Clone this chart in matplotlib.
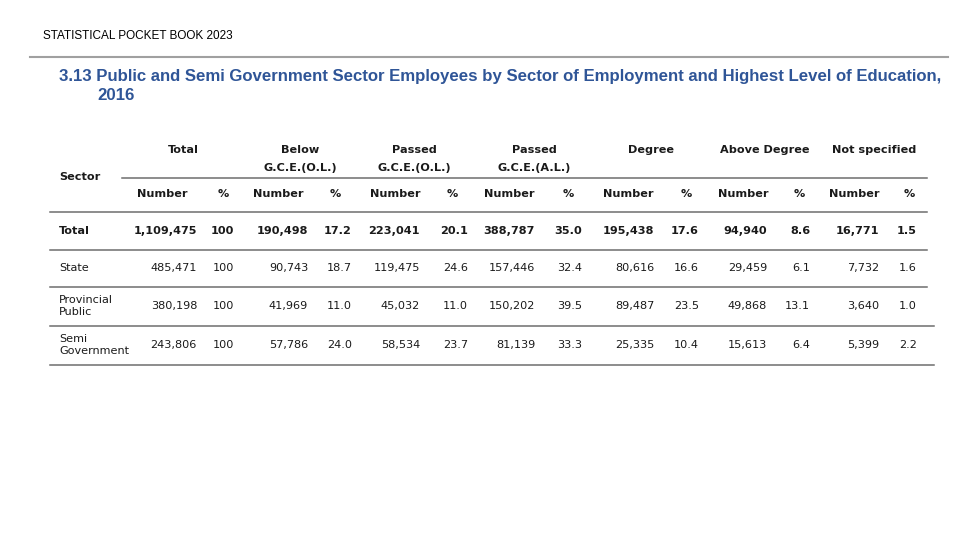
import matplotlib
matplotlib.use('Agg')
import matplotlib.pyplot as plt

# table data
sectors = ['Total', 'State', 'Provincial\nPublic', 'Semi\nGovernment']
groups = ['Total', 'Below\nG.C.E.(O.L.)', 'Passed\nG.C.E.(O.L.)', 'Passed\nG.C.E.(A.L.)',
          'Degree', 'Above Degree', 'Not specified']

total_num = [1109475, 485471, 380198, 243806]
total_pct = [100, 100, 100, 100]
below_ol_num = [190498, 90743, 41969, 57786]
below_ol_pct = [17.2, 18.7, 11.0, 24.0]
passed_ol_num = [223041, 119475, 45032, 58534]
passed_ol_pct = [20.1, 24.6, 11.0, 23.7]
passed_al_num = [388787, 157446, 150202, 81139]
passed_al_pct = [35.0, 32.4, 39.5, 33.3]
degree_num = [195438, 80616, 89487, 25335]
degree_pct = [17.6, 16.6, 23.5, 10.4]
above_num = [94940, 29459, 49868, 15613]
above_pct = [8.6, 6.1, 13.1, 6.4]
notspec_num = [16771, 7732, 3640, 5399]
notspec_pct = [1.5, 1.6, 1.0, 2.2]

num_cols = [total_num, below_ol_num, passed_ol_num, passed_al_num, degree_num, above_num, notspec_num]
pct_cols = [total_pct, below_ol_pct, passed_ol_pct, passed_al_pct, degree_pct, above_pct, notspec_pct]

# layout (pixels)
group_x = [183, 300, 414, 534, 651, 765, 874]
number_x = [162, 278, 395, 509, 628, 743, 854]
percent_x = [223, 335, 452, 568, 686, 799, 909]
num_right = [197, 308, 420, 535, 654, 767, 879]
pct_right = [234, 352, 468, 582, 699, 810, 917]
row_y = [231, 268, 306, 345]

fig = plt.figure(figsize=(9.8, 5.51), dpi=100)
ax = fig.add_axes([0, 0, 1, 1])
ax.set_xlim(0, 980)
ax.set_ylim(551, 0)
ax.axis('off')

txt = '#1a1a1a'
fs = 8.1
fam = 'DejaVu Sans'

ax.text(43, 36, 'STATISTICAL POCKET BOOK 2023', fontsize=8.5, family='Liberation Sans',
        color='black', va='center', ha='left')
ax.plot([30, 948], [57, 57], color='#a0a0a0', lw=1.5)
ax.text(59, 76, '3.13 Public and Semi Government Sector Employees by Sector of Employment and Highest Level of Education,',
        fontsize=12.05, family='Liberation Sans', weight='bold', color='#2f5597', va='center', ha='left')
ax.text(97, 96, '2016', fontsize=12.05, family='Liberation Sans', weight='bold', color='#2f5597',
        va='center', ha='left')

# header
ax.text(59, 177, 'Sector', fontsize=fs, family=fam, weight='bold', color=txt, va='center')
for g, x in zip(groups, group_x):
    if '\n' in g:
        top, bottom = g.split('\n')
        ax.text(x, 150, top, fontsize=fs, family=fam, weight='bold', color=txt, ha='center', va='center')
        ax.text(x, 168, bottom, fontsize=fs, family=fam, weight='bold', color=txt, ha='center', va='center')
    else:
        ax.text(x, 150, g, fontsize=fs, family=fam, weight='bold', color=txt, ha='center', va='center')
for x in number_x:
    ax.text(x, 194, 'Number', fontsize=fs, family=fam, weight='bold', color=txt, ha='center', va='center')
for x in percent_x:
    ax.text(x, 194, '%', fontsize=fs, family=fam, weight='bold', color=txt, ha='center', va='center')

# rows
for i, (sec, y) in enumerate(zip(sectors, row_y)):
    w = 'bold' if i == 0 else 'normal'
    ax.text(59, y, sec, fontsize=fs, family=fam, weight=w, color=txt, va='center', ha='left',
            linespacing=1.3)
    for j in range(7):
        ax.text(num_right[j], y, '{:,}'.format(num_cols[j][i]), fontsize=fs, family=fam, weight=w,
                color=txt, ha='right', va='center')
        p = pct_cols[j][i]
        ps = '100' if j == 0 else '{:.1f}'.format(p)
        ax.text(pct_right[j], y, ps, fontsize=fs, family=fam, weight=w, color=txt, ha='right', va='center')

# rules
ax.plot([122, 927], [178, 178], color='#6e6e6e', lw=1.1)
ax.plot([50, 927], [212, 212], color='#6e6e6e', lw=1.1)
ax.plot([50, 927], [250, 250], color='#6e6e6e', lw=1.1)
ax.plot([50, 927], [287, 287], color='#6e6e6e', lw=1.1)
ax.plot([50, 934], [326, 326], color='#6e6e6e', lw=1.1)
ax.plot([50, 934], [365, 365], color='#6e6e6e', lw=1.1)

fig.savefig('out.png', dpi=100, facecolor='white')
